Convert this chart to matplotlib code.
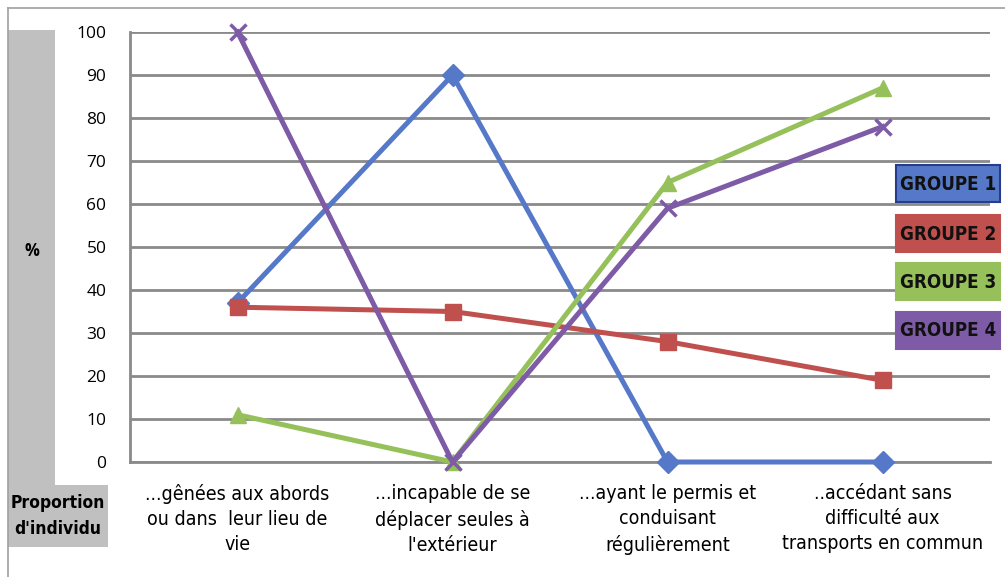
import matplotlib.pyplot as plt
from matplotlib.patches import Rectangle
from matplotlib.lines import Line2D

categories = [
    "...gênées aux abords\nou dans  leur lieu de\nvie",
    "...incapable de se\ndéplacer seules à\nl'extérieur",
    "...ayant le permis et\nconduisant\nrégulièrement",
    "..accédant sans\ndifficulté aux\ntransports en commun",
]
groupe_1 = [37, 90, 0, 0]
groupe_2 = [36, 35, 28, 19]
groupe_3 = [11, 0, 65, 87]
groupe_4 = [100, 0, 59, 78]
series_names = ["GROUPE 1", "GROUPE 2", "GROUPE 3", "GROUPE 4"]
y_ticks = list(range(0, 101, 10))

W, H = 1005, 577
fig = plt.figure(figsize=(W / 100, H / 100), dpi=100)
fig.patch.set_facecolor("white")

def px(x, y):
    # pixel (from top-left) to figure fraction
    return x / W, 1 - y / H

# plot area: x 130..990, y 32..462
l, t = px(130, 32)
r, b = px(990, 462)
ax = fig.add_axes([l, b, r - l, t - b])

colors = ["#5578C8", "#C0504D", "#96C15A", "#7D5BA6"]
markers = ["D", "s", "^", "x"]
msizes = [11, 12, 12, 12]
xs = range(len(categories))
for vals, c, m, ms in zip([groupe_1, groupe_2, groupe_3, groupe_4], colors, markers, msizes):
    ax.plot(xs, vals, color=c, lw=3.6, marker=m, ms=ms, mew=2.5 if m == "x" else 1,
            mec=c, mfc=c, clip_on=False, zorder=3)

ax.set_xlim(-0.5, 3.5)
ax.set_ylim(0, 100)
ax.set_yticks(y_ticks)
ax.set_yticklabels([str(v) for v in y_ticks], fontsize=12.5, family="Open Sans")
ax.set_xticks(list(xs))
ax.set_xticklabels(categories, fontsize=14, family="DejaVu Sans", stretch="condensed",
                   linespacing=1.4)
ax.tick_params(axis="x", length=0, pad=16)
ax.tick_params(axis="y", length=0, pad=17)
ax.yaxis.grid(True, color="#8a8a8a", lw=2)
ax.set_axisbelow(True)
for s in ["top", "right"]:
    ax.spines[s].set_visible(False)
for s in ["left", "bottom"]:
    ax.spines[s].set_color("#8a8a8a")
    ax.spines[s].set_linewidth(2)

# outer frame
fig.add_artist(Line2D([8 / W, 1], [1 - 8 / H] * 2, color="#a0a0a0", lw=1.2))
fig.add_artist(Line2D([8 / W] * 2, [0, 1 - 8 / H], color="#a0a0a0", lw=1.2))

# grey title strips
gx, gy = px(8, 485)
fig.add_artist(Rectangle((gx, gy), 47 / W, 455 / H, transform=fig.transFigure,
                         color="#c0c0c0", lw=0))
px0, py0 = px(8, 547)
fig.add_artist(Rectangle((px0, py0), 100 / W, 62 / H, transform=fig.transFigure,
                         color="#c0c0c0", lw=0))
fig.text(*px(32, 251), "%", ha="center", va="center", fontsize=12,
         family="Open Sans", fontweight="bold")
fig.text(*px(58, 516), "Proportion\nd'individu", ha="center", va="center",
         fontsize=12.5, family="DejaVu Sans", stretch="condensed", fontweight="bold",
         linespacing=1.55)

# legend boxes
box_tops = [165, 215, 263, 312]
for name, c, top in zip(series_names, colors, box_tops):
    bx, by = px(896, top + 37)
    edge = "#283c8c" if name == "GROUPE 1" else c
    fig.add_artist(Rectangle((bx, by), 104 / W, 37 / H, transform=fig.transFigure,
                             facecolor=c, edgecolor=edge, lw=1.5))
    fig.text(*px(948, top + 19), name, ha="center", va="center", fontsize=13.5,
             family="DejaVu Sans", stretch="condensed", fontweight="bold", color="#111111")

fig.savefig("out.png", dpi=100)
